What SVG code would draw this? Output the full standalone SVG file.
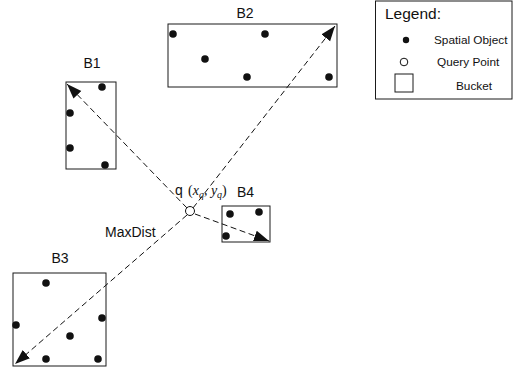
<svg xmlns="http://www.w3.org/2000/svg" width="513" height="368" viewBox="0 0 513 368">
  <style>
    .box { fill: none; stroke: #1a1a1a; stroke-width: 1; }
    .dot { fill: #111; }
    .lbl { font-family: "Liberation Sans", Arial, sans-serif; font-size: 14px; fill: #111; }
    .leg { font-family: "Liberation Sans", Arial, sans-serif; font-size: 11.8px; fill: #111; }
    .ray { stroke: #111; stroke-width: 1; stroke-dasharray: 6 3.5; fill: none; marker-end: url(#tip); }
  </style>
  <defs>
    <marker id="tip" markerUnits="userSpaceOnUse" markerWidth="16" markerHeight="12" refX="15" refY="6" orient="auto">
      <path d="M0,0.5 L15,6 L0,11.5 Z" fill="#111"/>
    </marker>
  </defs>
  <rect width="513" height="368" fill="#fff"/>

  <!-- dashed distance rays from the query point to bucket corners -->
  <g id="connectors">
    <line class="ray" x1="193" y1="208" x2="335" y2="26"/>
    <line class="ray" x1="187" y1="208" x2="67" y2="84"/>
    <line class="ray" x1="187" y1="215" x2="15" y2="364"/>
    <line class="ray" x1="195" y1="214" x2="269" y2="241"/>
  </g>

  <g id="B1">
    <text class="lbl" x="92" y="68" text-anchor="middle">B1</text>
    <rect class="box" x="66" y="82" width="50" height="87"/>
    <circle class="dot" cx="102" cy="87" r="3.8"/>
    <circle class="dot" cx="70" cy="113" r="3.8"/>
    <circle class="dot" cx="70" cy="148" r="3.8"/>
    <circle class="dot" cx="105" cy="165" r="3.8"/>
  </g>

  <g id="B2">
    <text class="lbl" x="245" y="18" text-anchor="middle">B2</text>
    <rect class="box" x="168" y="24" width="169" height="63"/>
    <circle class="dot" cx="173" cy="34" r="3.8"/>
    <circle class="dot" cx="265" cy="34" r="3.8"/>
    <circle class="dot" cx="205" cy="59" r="3.8"/>
    <circle class="dot" cx="247" cy="77" r="3.8"/>
    <circle class="dot" cx="329" cy="77" r="3.8"/>
  </g>

  <g id="B3">
    <text class="lbl" x="60" y="263" text-anchor="middle">B3</text>
    <rect class="box" x="13" y="273" width="93" height="93"/>
    <circle class="dot" cx="46" cy="283" r="3.8"/>
    <circle class="dot" cx="16" cy="325" r="3.8"/>
    <circle class="dot" cx="102" cy="318" r="3.8"/>
    <circle class="dot" cx="70" cy="336" r="3.8"/>
    <circle class="dot" cx="46" cy="359" r="3.8"/>
    <circle class="dot" cx="98" cy="359" r="3.8"/>
  </g>

  <g id="B4">
    <text class="lbl" x="237" y="197">B4</text>
    <rect class="box" x="222" y="206" width="48" height="36"/>
    <circle class="dot" cx="230" cy="214" r="3.8"/>
    <circle class="dot" cx="259" cy="212" r="3.8"/>
    <circle class="dot" cx="226" cy="236" r="3.8"/>
  </g>

  <g id="q">
    <circle cx="190" cy="211" r="4.5" fill="#fff" stroke="#111" stroke-width="1"/>
    <text class="lbl" x="175" y="195">q</text>
    <text x="188" y="195" font-family="Liberation Serif, Times New Roman, serif" font-size="14" fill="#111">(<tspan font-style="italic">x</tspan><tspan font-style="italic" font-size="10" dy="3">q</tspan><tspan dy="-3">, </tspan><tspan font-style="italic">y</tspan><tspan font-style="italic" font-size="10" dy="3">q</tspan><tspan dy="-3">)</tspan></text>
  </g>

  <g id="maxdist">
    <text class="lbl" x="105" y="237">MaxDist</text>
  </g>

  <g id="legend">
    <rect class="box" x="375.5" y="1" width="136.5" height="98"/>
    <text x="385" y="19" font-family="Liberation Sans, Arial, sans-serif" font-size="15.5" fill="#111">Legend:</text>
    <circle class="dot" cx="406" cy="40" r="3.2"/>
    <text class="leg" x="434" y="44">Spatial Object</text>
    <circle cx="404" cy="62" r="3.8" fill="#fff" stroke="#111" stroke-width="1"/>
    <text class="leg" x="437" y="66">Query Point</text>
    <rect class="box" x="395" y="74" width="18" height="18"/>
    <text class="leg" x="456" y="90">Bucket</text>
  </g>
</svg>
